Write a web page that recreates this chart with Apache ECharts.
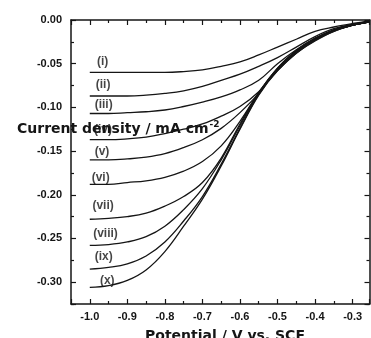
<!DOCTYPE html>
<html>
<head>
<meta charset="utf-8">
<script src="https://cdn.jsdelivr.net/npm/echarts@6/dist/echarts.min.js"></script>
<style>
html,body{margin:0;padding:0;background:#fff;}
#chart{width:371px;height:338px;}
</style>
</head>
<body>
<div id="chart"></div>
<script>
// Potential (V vs. SCE)
const potentials = [-1.0, -0.95, -0.9, -0.85, -0.8, -0.75, -0.7, -0.65, -0.6, -0.55, -0.5, -0.45, -0.4, -0.35, -0.3, -0.255];

// Current density (mA cm^-2) for curves (i) .. (x)
const curveI    = [-0.060, -0.060, -0.060, -0.060, -0.060, -0.059, -0.057, -0.053, -0.048, -0.040, -0.031, -0.022, -0.013, -0.008, -0.004, -0.001];
const curveII   = [-0.087, -0.087, -0.087, -0.086, -0.084, -0.081, -0.076, -0.069, -0.062, -0.053, -0.043, -0.031, -0.019, -0.010, -0.005, -0.002];
const curveIII  = [-0.107, -0.107, -0.106, -0.105, -0.103, -0.099, -0.094, -0.088, -0.080, -0.069, -0.050, -0.034, -0.021, -0.011, -0.005, -0.002];
const curveIV   = [-0.137, -0.137, -0.136, -0.134, -0.130, -0.125, -0.119, -0.110, -0.099, -0.082, -0.058, -0.038, -0.023, -0.012, -0.006, -0.002];
const curveV    = [-0.160, -0.160, -0.159, -0.157, -0.153, -0.146, -0.137, -0.124, -0.106, -0.084, -0.056, -0.036, -0.022, -0.012, -0.006, -0.002];
const curveVI   = [-0.188, -0.188, -0.186, -0.184, -0.180, -0.173, -0.162, -0.144, -0.116, -0.083, -0.055, -0.035, -0.021, -0.012, -0.006, -0.002];
const curveVII  = [-0.228, -0.227, -0.225, -0.221, -0.213, -0.202, -0.186, -0.158, -0.119, -0.083, -0.055, -0.035, -0.021, -0.012, -0.006, -0.002];
const curveVIII = [-0.258, -0.257, -0.254, -0.248, -0.236, -0.217, -0.193, -0.160, -0.121, -0.084, -0.056, -0.036, -0.022, -0.012, -0.006, -0.002];
const curveIX   = [-0.285, -0.283, -0.279, -0.270, -0.254, -0.230, -0.202, -0.165, -0.124, -0.085, -0.057, -0.037, -0.023, -0.013, -0.006, -0.002];
const curveX    = [-0.306, -0.304, -0.298, -0.286, -0.265, -0.236, -0.205, -0.167, -0.125, -0.086, -0.058, -0.038, -0.024, -0.013, -0.006, -0.002];

// Curve labels
const labelNames = ['(i)', '(ii)', '(iii)', '(iv)', '(v)', '(vi)', '(vii)', '(viii)', '(ix)', '(x)'];
const labelX = [-0.981, -0.984, -0.987, -0.989, -0.987, -0.995, -0.993, -0.991, -0.987, -0.973];
const labelY = [-0.048, -0.074, -0.097, -0.125, -0.151, -0.180, -0.213, -0.245, -0.271, -0.298];

// Axis ranges
const xMin = -1.05, xMax = -0.255;
const yMin = -0.325, yMax = 0;

const curves = [curveI, curveII, curveIII, curveIV, curveV, curveVI, curveVII, curveVIII, curveIX, curveX];

const INK = '#151515';
const lineSeries = curves.map((arr, k) => ({
  type: 'line',
  name: labelNames[k],
  xAxisIndex: 0, yAxisIndex: 0,
  data: potentials.map((p, i) => [p, arr[i]]),
  smooth: 0.4,
  showSymbol: false,
  lineStyle: {color: INK, width: 1.3}
}));

const labelSeries = {
  type: 'scatter',
  xAxisIndex: 0, yAxisIndex: 0,
  symbolSize: 0,
  data: labelNames.map((n, i) => ({name: n, value: [labelX[i], labelY[i]]})),
  label: {
    show: true, position: 'right', distance: 0,
    formatter: p => p.name,
    fontFamily: 'Liberation Sans', fontWeight: 'bold', fontSize: 12, color: INK
  }
};

function ax(pos, labels) {
  const isX = (pos === 'top' || pos === 'bottom');
  return {
    type: 'value', gridIndex: 0, position: pos, offset: 0,
    min: isX ? xMin : yMin,
    max: isX ? xMax : yMax,
    splitNumber: isX ? 8 : 7,
    axisLine: {show: true, onZero: false, lineStyle: {color: INK, width: 1.5}},
    axisTick: {show: true, inside: true, length: 5, lineStyle: {color: INK, width: 1.2}},
    minorTick: {show: true, splitNumber: 2, length: 3, lineStyle: {color: INK, width: 1.2}},
    axisLabel: labels ? {
      show: true, showMinLabel: false, showMaxLabel: isX ? false : true,
      margin: isX ? 7 : 9,
      formatter: v => isX ? v.toFixed(1) : v.toFixed(2),
      fontFamily: 'Liberation Sans', fontWeight: 'bold', fontSize: 11, color: INK
    } : {show: false},
    splitLine: {show: false}
  };
}

const chart = echarts.init(document.getElementById('chart'));
chart.setOption({
  animation: false,
  title: [
    {text: 'Potential / V vs. SCE', left: 220, top: 324, textAlign: 'center',
     textStyle: {fontFamily: 'DejaVu Sans', fontWeight: 'bold', fontSize: 14, color: INK}},
    {text: 'Current density / mA cm{sup|-2}', left: 12, top: 124, textVerticalAlign: 'middle',
     textStyle: {fontFamily: 'DejaVu Sans', fontWeight: 'bold', fontSize: 14, color: INK,
       rich: {sup: {fontFamily: 'DejaVu Sans', fontWeight: 'bold', fontSize: 9, color: INK, verticalAlign: 'top', padding: [0, 0, 8, 1]}}}}
  ],
  grid: {left: 71, right: 1.5, top: 20, bottom: 34, containLabel: false},
  xAxis: [ax('bottom', true), ax('top', false)],
  yAxis: [ax('left', true), ax('right', false)],
  series: lineSeries.concat([labelSeries])
});
</script>
</body>
</html>
